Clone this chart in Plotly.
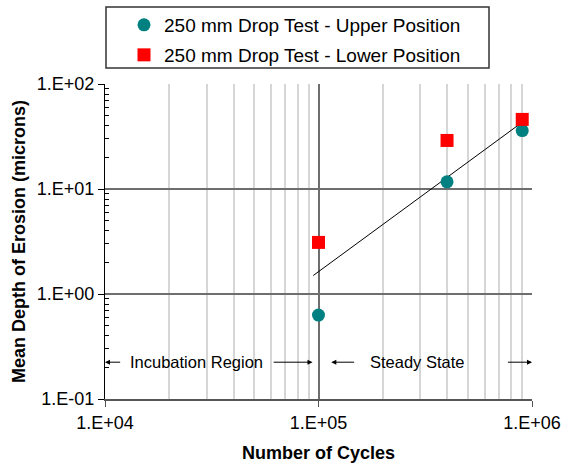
import plotly.graph_objects as go

# ---- data ----
cycles = [1e5, 4e5, 9e5]
upper_depth = [0.63, 11.7, 36.0]
lower_depth = [3.1, 29.0, 46.0]
trend_cycles = [9.45e4, 9.45e5]
trend_depth = [1.5, 46.5]
x_tick_vals = [1e4, 1e5, 1e6]
x_tick_text = ["1.E+04", "1.E+05", "1.E+06"]
y_tick_vals = [0.1, 1, 10, 100]
y_tick_text = ["1.E-01", "1.E+00", "1.E+01", "1.E+02"]
upper_name = "250 mm Drop Test - Upper Position"
lower_name = "250 mm Drop Test - Lower Position"

FONT = "Liberation Sans, Arial, sans-serif"
MAJOR_GRID = "#6e6e6e"
MINOR_GRID = "#d6d6d6"

x_minor = [m * 10 ** e for e in (4, 5) for m in range(2, 10)]
y_minor = [m * 10 ** e for e in (-1, 0, 1) for m in range(2, 10)]

fig = go.Figure()
fig.add_trace(go.Scatter(x=trend_cycles, y=trend_depth, mode="lines",
                         line=dict(color="black", width=1), showlegend=False,
                         hoverinfo="skip"))
fig.add_trace(go.Scatter(x=cycles, y=upper_depth, mode="markers", name=upper_name,
                         marker=dict(symbol="circle", size=13, color="#008080"),
                         legend="legend"))
fig.add_trace(go.Scatter(x=cycles, y=lower_depth, mode="markers", name=lower_name,
                         marker=dict(symbol="square", size=13, color="#ff0000"),
                         legend="legend2"))

H0, H1 = 84, 399   # plot area pixel top/bottom
def py(p):
    return (H1 - p) / (H1 - H0)
W0, W1 = 105, 532
def px(p):
    return (p - W0) / (W1 - W0)

legend_common = dict(font=dict(family=FONT, size=19, color="black"),
                     bgcolor="rgba(0,0,0,0)", borderwidth=0, itemwidth=30,
                     xanchor="left", yanchor="middle", x=px(124))
fig.update_layout(
    width=562, height=466,
    margin=dict(l=105, r=30, t=84, b=67, autoexpand=False),
    paper_bgcolor="white", plot_bgcolor="white",
    font=dict(family=FONT, size=18, color="black"),
    legend=dict(**legend_common, y=py(25)),
    legend2=dict(**legend_common, y=py(55)),
    xaxis=dict(type="log", range=[4, 6], tickmode="array", tickvals=x_tick_vals,
               ticktext=x_tick_text, ticks="outside", ticklen=6, tickcolor="#555",
               showgrid=True, gridcolor=MAJOR_GRID, gridwidth=1.5,
               showline=True, linecolor="#555", linewidth=2, automargin=False,
               tickfont=dict(size=18),
               title=dict(text="<b>Number of Cycles</b>", font=dict(size=18), standoff=15),
               minor=dict(tickmode="array", tickvals=x_minor, showgrid=True,
                          gridcolor=MINOR_GRID, gridwidth=1.5, ticks=""),
               zeroline=False),
    yaxis=dict(type="log", range=[-1, 2], tickmode="array", tickvals=y_tick_vals,
               ticktext=y_tick_text, ticks="outside", ticklen=6, tickcolor="black",
               showgrid=True, gridcolor=MAJOR_GRID, gridwidth=1.5,
               showline=True, linecolor="black", linewidth=1, automargin=False,
               tickfont=dict(size=18),
               title=dict(text="<b>Mean Depth of Erosion (microns)</b>", font=dict(size=18), standoff=6),
               minor=dict(tickmode="array", tickvals=y_minor, showgrid=False,
                          ticks="inside", ticklen=4, tickcolor="black", tickwidth=1),
               zeroline=False),
    showlegend=True,
)

# legend frame
fig.add_shape(type="rect", xref="paper", yref="paper",
              x0=px(106), x1=px(489), y0=py(68), y1=py(7),
              line=dict(color="#333", width=1.5), fillcolor="rgba(0,0,0,0)")

# white bands behind region labels (hide gridlines)
yb0, yb1 = (294 - 376) / 104.7, (294 - 348) / 104.7
fig.add_shape(type="rect", xref="x", yref="y", x0=4.01, x1=4.985, y0=yb0, y1=yb1,
              line=dict(width=0), fillcolor="white", layer="between")
fig.add_shape(type="rect", xref="x", yref="y", x0=5.015, x1=5.99, y0=yb0, y1=yb1,
              line=dict(width=0), fillcolor="white", layer="between")

ya = (294 - 362) / 104.7
fig.add_annotation(x=4.43, y=ya, xref="x", yref="y", text="Incubation Region",
                   showarrow=False, font=dict(size=16.5))
fig.add_annotation(x=5.463, y=ya, xref="x", yref="y", text="Steady State",
                   showarrow=False, font=dict(size=16.5))
arrows = [(4.0, 4.078), (4.972, 4.783), (5.06, 5.174), (6.0, 5.88)]
for head, tail in arrows:
    fig.add_annotation(x=head, y=ya, ax=tail, ay=ya, xref="x", yref="y",
                       axref="x", ayref="y", text="", showarrow=True,
                       arrowhead=2, arrowsize=1, arrowwidth=1, arrowcolor="black")

fig.write_html("out.html")
